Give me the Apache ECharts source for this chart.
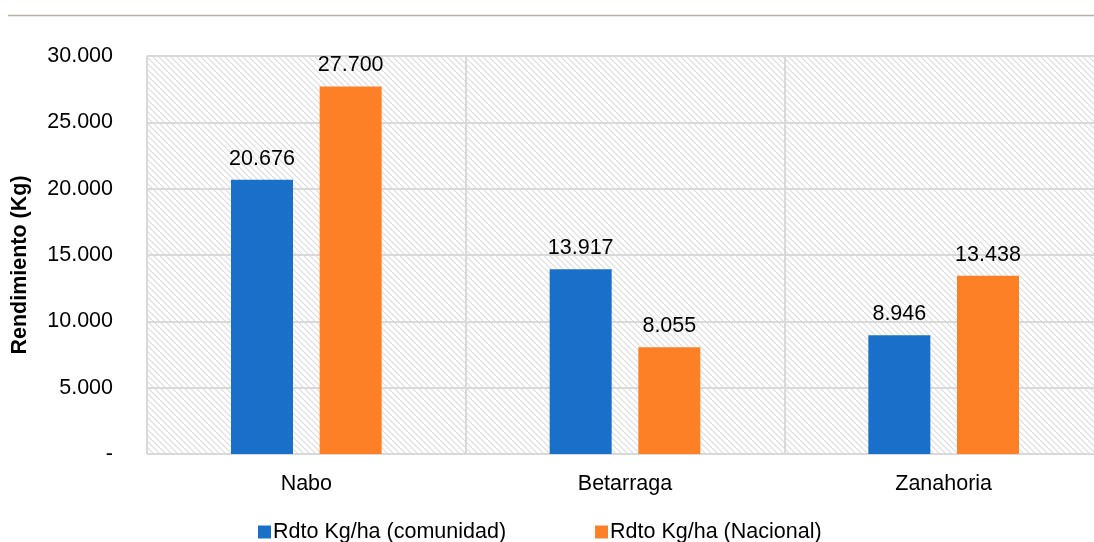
<!DOCTYPE html>
<html>
<head>
<meta charset="utf-8">
<script src="https://cdn.jsdelivr.net/npm/echarts@6/dist/echarts.min.js"></script>
<style>
html, body { margin: 0; padding: 0; background: #fff; }
#main { width: 1094px; height: 542px; }
</style>
</head>
<body>
<div id="main"></div>
<script>
var categories = ['Nabo', 'Betarraga', 'Zanahoria'];
var comunidad = [20676, 13917, 8946];
var nacional = [27700, 8055, 13438];
var seriesNames = ['Rdto Kg/ha (comunidad)', 'Rdto Kg/ha (Nacional)'];

// hatched background for the plot area
var hatch = document.createElement('canvas');
hatch.width = 6;
hatch.height = 6;
var ctx = hatch.getContext('2d');
ctx.fillStyle = '#ffffff';
ctx.fillRect(0, 0, 6, 6);
ctx.strokeStyle = '#dcdcdc';
ctx.lineWidth = 1.1;
ctx.beginPath();
ctx.moveTo(-1, -1); ctx.lineTo(7, 7);
ctx.moveTo(-1, 5); ctx.lineTo(1, 7);
ctx.moveTo(5, -1); ctx.lineTo(7, 1);
ctx.stroke();

function fmt(v) {
    if (v === 0) return '-';
    return String(v).replace(/\B(?=(\d{3})+(?!\d))/g, '.');
}

var chart = echarts.init(document.getElementById('main'));

var labelStyle = {
    show: true,
    position: 'top',
    distance: 10,
    fontSize: 21.5,
    color: '#000',
    formatter: function (p) { return fmt(p.value); }
};

var option = {
    animation: false,
    textStyle: { fontFamily: 'Liberation Sans, Arial, sans-serif' },
    graphic: [{
        type: 'line',
        shape: { x1: 8, y1: 15.5, x2: 1094, y2: 15.5 },
        style: { stroke: '#b9b0a4', lineWidth: 1.5 }
    }],
    grid: {
        left: 147,
        width: 956,
        top: 56,
        bottom: 88,
        outerBoundsMode: 'none',
        containLabel: false,
        show: true,
        borderColor: '#d9d9d9',
        borderWidth: 1,
        backgroundColor: { image: hatch, repeat: 'repeat' }
    },
    legend: {
        top: 516,
        left: 253,
        itemGap: 89,
        itemWidth: 13,
        itemHeight: 13,
        icon: 'rect',
        textStyle: { fontSize: 21.5, color: '#000', padding: [0, 0, 0, -3] },
        data: seriesNames
    },
    xAxis: {
        type: 'category',
        data: categories,
        axisTick: { show: false },
        axisLine: { lineStyle: { color: '#d9d9d9', width: 1 } },
        axisLabel: { fontSize: 21.5, color: '#000', margin: 19 },
        splitLine: { show: true, lineStyle: { color: '#d9d9d9', width: 2 } }
    },
    yAxis: {
        type: 'value',
        min: 0,
        max: 30000,
        interval: 5000,
        name: 'Rendimiento (Kg)',
        nameLocation: 'middle',
        nameGap: 116,
        nameRotate: 90,
        nameTextStyle: {
            fontSize: 21.5,
            fontWeight: 'bold',
            color: '#000',
            padding: [0, 20, 0, 0]
        },
        axisLine: { show: false },
        axisTick: { show: false },
        axisLabel: {
            fontSize: 21.5,
            color: '#000',
            margin: 34,
            formatter: fmt
        },
        splitLine: { lineStyle: { color: '#d9d9d9', width: 2 } }
    },
    series: [
        {
            name: seriesNames[0],
            type: 'bar',
            data: comunidad,
            barWidth: 62,
            barGap: '43%',
            itemStyle: { color: '#1a70c9' },
            label: labelStyle
        },
        {
            name: seriesNames[1],
            type: 'bar',
            data: nacional,
            barWidth: 62,
            itemStyle: { color: '#fe8026' },
            label: labelStyle
        }
    ]
};

chart.setOption(option);

window.onresize = chart.resize;
</script>
</body>
</html>
